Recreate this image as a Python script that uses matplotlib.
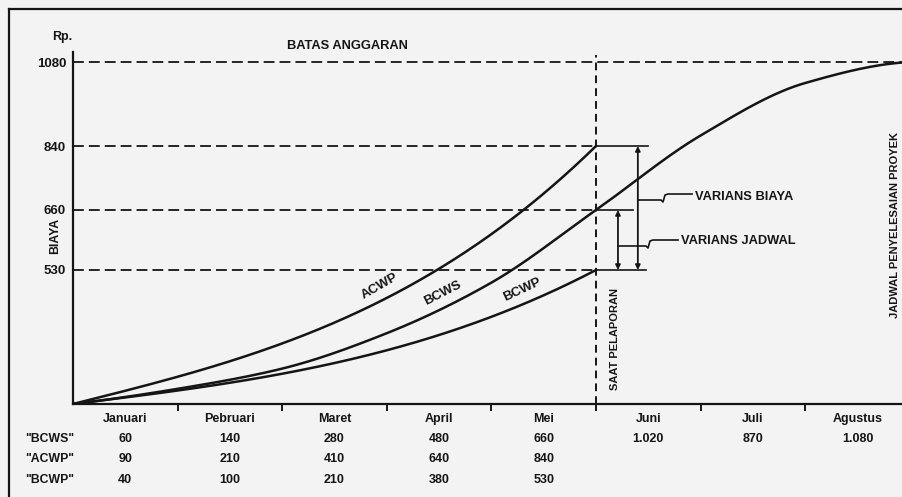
import numpy as np
import matplotlib
matplotlib.use("Agg")
import matplotlib.pyplot as plt
from matplotlib.transforms import blended_transform_factory

# ---- data -------------------------------------------------------------
months = ["Januari", "Pebruari", "Maret", "April", "Mei", "Juni", "Juli", "Agustus"]
row_names = ['"BCWS"', '"ACWP"', '"BCWP"']

bcws_table = [60, 140, 280, 480, 660, 1020, 870, 1080]   # planned (as listed)
acwp = [90, 210, 410, 640, 840]                         # actual cost to date
bcwp = [40, 100, 210, 380, 530]                         # earned value to date

# planned S-curve totals used for the BCWS line (month 0..8)
bcws_curve = [0, 60, 140, 280, 480, 660, 870, 1020, 1080]

y_ticks = [530, 660, 840, 1080]
budget = 1080
report_month = 5

# ---- style ------------------------------------------------------------
W, H = 903, 497
BG = "#f3f3f3"
INK = "#151515"
FONT = "Liberation Sans"
plt.rcParams["font.family"] = [FONT, "DejaVu Sans"]
plt.rcParams["font.weight"] = "bold"

# stretched value axis: value -> drawn height
scale_vals = np.array([0, 530, 660, 840, 1080, 1200], float)
scale_h = np.array([0, 134, 194, 258, 342, 384], float)


def fwd(v):
    v = np.asarray(v, float)
    out = np.interp(v, scale_vals, scale_h)
    s0 = (scale_h[1] - scale_h[0]) / (scale_vals[1] - scale_vals[0])
    s1 = (scale_h[-1] - scale_h[-2]) / (scale_vals[-1] - scale_vals[-2])
    out = np.where(v < scale_vals[0], v * s0, out)
    out = np.where(v > scale_vals[-1], scale_h[-1] + (v - scale_vals[-1]) * s1, out)
    return out


def inv(h):
    h = np.asarray(h, float)
    out = np.interp(h, scale_h, scale_vals)
    s0 = (scale_vals[1] - scale_vals[0]) / (scale_h[1] - scale_h[0])
    s1 = (scale_vals[-1] - scale_vals[-2]) / (scale_h[-1] - scale_h[-2])
    out = np.where(h < scale_h[0], h * s0, out)
    out = np.where(h > scale_h[-1], scale_vals[-1] + (h - scale_h[-1]) * s1, out)
    return out


def pchip(x, y, xn):
    x = np.asarray(x, float)
    y = np.asarray(y, float)
    h = np.diff(x)
    d = np.diff(y) / h
    m = np.zeros_like(y)
    for k in range(1, len(y) - 1):
        if d[k - 1] * d[k] > 0:
            w1 = 2 * h[k] + h[k - 1]
            w2 = h[k] + 2 * h[k - 1]
            m[k] = (w1 + w2) / (w1 / d[k - 1] + w2 / d[k])

    def edge(h0, h1, d0, d1):
        e = ((2 * h0 + h1) * d0 - h0 * d1) / (h0 + h1)
        if np.sign(e) != np.sign(d0):
            e = 0.0
        elif np.sign(d0) != np.sign(d1) and abs(e) > abs(3 * d0):
            e = 3 * d0
        return e

    m[0] = edge(h[0], h[1], d[0], d[1])
    m[-1] = edge(h[-1], h[-2], d[-1], d[-2])
    idx = np.clip(np.searchsorted(x, xn) - 1, 0, len(h) - 1)
    t = (xn - x[idx]) / h[idx]
    h00 = 2 * t**3 - 3 * t**2 + 1
    h10 = t**3 - 2 * t**2 + t
    h01 = -2 * t**3 + 3 * t**2
    h11 = t**3 - t**2
    return (h00 * y[idx] + h10 * h[idx] * m[idx]
            + h01 * y[idx + 1] + h11 * h[idx] * m[idx + 1])


def spline_curve(values, x_end):
    """Monotone spline through the monthly totals (in drawn height)."""
    mx = np.arange(len(values), dtype=float)
    xs = np.linspace(0, x_end, 400)
    return xs, inv(pchip(mx, fwd(values), xs))


def fitted_curve(values, x_end):
    """Smooth convex trend h = a*t + c*t^3 from the origin through the
    monthly totals, pinned at the reporting month."""
    mx = np.arange(len(values), dtype=float)
    hv = fwd(values)
    w = np.ones(len(values))
    w[-1] = 60.0
    A = np.column_stack([mx, mx**3]) * w[:, None]
    (a, c), *_ = np.linalg.lstsq(A, hv * w, rcond=None)
    xs = np.linspace(0, x_end, 400)
    return xs, inv(a * xs + c * xs**3)


# ---- figure -----------------------------------------------------------
fig = plt.figure(figsize=(W / 100, H / 100), dpi=100, facecolor=BG)
AX_L, AX_B, AX_T = 73, 404, 52
MW = 104.6                                    # pixels per month
ax = fig.add_axes([AX_L / W, (H - AX_B) / H, (W - AX_L) / W, (AX_B - AX_T) / H])
ax.set_facecolor(BG)
ax.set_yscale("function", functions=(fwd, inv))
x_max = (W - AX_L) / MW
ax.set_xlim(0, x_max)
ax.set_ylim(0, float(inv(AX_B - AX_T)))

for s in ("top", "right"):
    ax.spines[s].set_visible(False)
for s in ("left", "bottom"):
    ax.spines[s].set_linewidth(1.6)
    ax.spines[s].set_color(INK)

ax.set_yticks(y_ticks)
ax.set_yticklabels([str(v) for v in y_ticks], fontsize=9.5, color=INK,
                   fontweight="bold")
ax.tick_params(axis="y", length=0, pad=5)
ax.yaxis.set_minor_locator(matplotlib.ticker.NullLocator())
ax.set_xticks(np.arange(1, 8))
ax.set_xticklabels([])
ax.tick_params(axis="x", direction="out", length=5, width=1.4, color=INK)

dash = dict(color=INK, lw=1.3, dashes=(6, 2.8))
ax.plot([0, x_max], [budget, budget], **dash)
for v in (acwp[-1], bcws_curve[report_month], bcwp[-1]):
    ax.plot([0, report_month], [v, v], **dash)
ax.plot([report_month, report_month], [0, float(inv(AX_B - 55))],
        color=INK, lw=1.4, dashes=(4, 2.6))

# cumulative curves
xs, ys = spline_curve(bcws_curve, 8)
ax.plot(xs, ys, color=INK, lw=1.8)
xs, ys = fitted_curve([0] + acwp, report_month)
ax.plot(xs, ys, color=INK, lw=1.8)
xs, ys = fitted_curve([0] + bcwp, report_month)
ax.plot(xs, ys, color=INK, lw=1.8)


def px(x, y):
    return (x - AX_L) / MW, float(inv(AX_B - y))


# curve labels
for name, (lx, ly), rot in (("ACWP", (380, 286), 30),
                            ("BCWS", (443, 293), 27),
                            ("BCWP", (522, 290), 25)):
    dx, dy = px(lx, ly)
    ax.text(dx, dy, name, rotation=rot, rotation_mode="anchor",
            ha="center", va="center", fontsize=9.5, color=INK, fontweight="bold")

# variance brackets
x_bia = report_month + 0.40
x_jad = report_month + 0.21
ax.plot([report_month, report_month + 0.50], [acwp[-1]] * 2, color=INK, lw=1.2)
ax.plot([report_month, report_month + 0.35], [bcws_curve[report_month]] * 2,
        color=INK, lw=1.2)
ax.plot([report_month, report_month + 0.48], [bcwp[-1]] * 2, color=INK, lw=1.2)
arrow = dict(arrowstyle="<|-|>", lw=1.3, color=INK, mutation_scale=7,
             shrinkA=0, shrinkB=0)
ax.annotate("", xy=(x_bia, acwp[-1]), xytext=(x_bia, bcwp[-1]), arrowprops=arrow)
ax.annotate("", xy=(x_jad, bcws_curve[report_month]), xytext=(x_jad, bcwp[-1]),
            arrowprops=arrow)

# leader lines with break marks
lead_b = [(638, 200), (661, 200), (663, 202), (665, 195), (668, 194), (692, 194)]
lead_j = [(618, 246), (646, 246), (648, 248), (650, 241), (653, 240), (678, 240)]
for pts in (lead_b, lead_j):
    d = [px(a, b) for a, b in pts]
    ax.plot([p[0] for p in d], [p[1] for p in d], color=INK, lw=1.2)


# free text in pixel positions
def ftext(x, y, s, **kw):
    kw.setdefault("fontsize", 9)
    kw.setdefault("color", INK)
    kw.setdefault("fontweight", "bold")
    fig.text(x / W, 1 - y / H, s, **kw)


ftext(62, 37, "Rp.", ha="center", va="center", fontsize=9)
ftext(55, 236, "BIAYA", rotation=90, ha="center", va="center", fontsize=8.8)
ftext(347, 46, "BATAS ANGGARAN", ha="center", va="center", fontsize=9.3)
ftext(695, 197, "VARIANS BIAYA", ha="left", va="center", fontsize=9.3)
ftext(681, 241, "VARIANS JADWAL", ha="left", va="center", fontsize=9.3)
ftext(615, 339, "SAAT PELAPORAN", rotation=90, ha="center", va="center", fontsize=8)
ftext(895, 225, "JADWAL PENYELESAIAN PROYEK", rotation=90, ha="center",
      va="center", fontsize=8)

# month table below the time axis
tb = blended_transform_factory(ax.transData, fig.transFigure)
row_y = [439, 459, 480]


def fmt(v):
    return f"{v:,}".replace(",", ".")


for i, m in enumerate(months):
    ax.text(i + 0.5, 1 - 419 / H, m, transform=tb, ha="center", va="center",
            fontsize=9, color=INK, fontweight="bold", clip_on=False)
for r, vals in enumerate((bcws_table, acwp, bcwp)):
    ftext(50, row_y[r], row_names[r], ha="center", va="center", fontsize=8.8)
    for i, v in enumerate(vals):
        ax.text(i + 0.5, 1 - row_y[r] / H, fmt(v), transform=tb, ha="center",
                va="center", fontsize=9, color=INK, fontweight="bold",
                clip_on=False)

# outer frame
fig.add_artist(plt.Line2D([9 / W, 9 / W], [0, 1 - 9 / H], transform=fig.transFigure,
                          color=INK, lw=1.6))
fig.add_artist(plt.Line2D([9 / W, 1], [1 - 9 / H, 1 - 9 / H],
                          transform=fig.transFigure, color=INK, lw=1.6))

fig.savefig("out.png", dpi=100, facecolor=BG)
